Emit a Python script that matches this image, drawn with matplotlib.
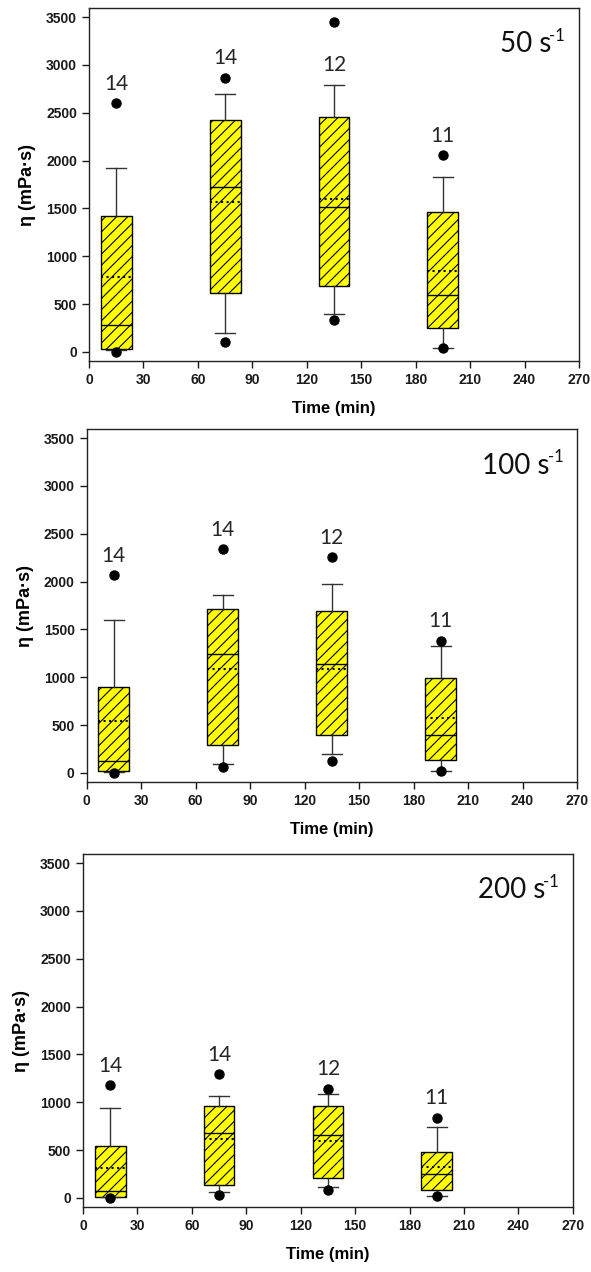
import matplotlib
matplotlib.use('Agg')
import matplotlib.pyplot as plt

plt.rcParams['font.family'] = ['Liberation Sans', 'DejaVu Sans']
plt.rcParams['hatch.linewidth'] = 0.8

# sampling times (min) and number of samples per time
times = [15, 75, 135, 195]
counts = [14, 14, 12, 11]
shear_rates = ['50', '100', '200']

# viscosity statistics, one row per shear rate (50, 100, 200 1/s)
whislo = [[15, 199, 394, 45], [15, 94, 202, 24], [10, 59, 115, 17]]
q1 = [[31, 621, 687, 251], [24, 296, 397, 139], [10, 140, 206, 87]]
med = [[286, 1727, 1511, 590], [125, 1240, 1139, 400], [70, 674, 660, 255]]
mean = [[782, 1563, 1602, 851], [547, 1087, 1087, 575], [314, 621, 597, 318]]
q3 = [[1424, 2422, 2457, 1459], [895, 1710, 1689, 989], [544, 963, 963, 475]]
whishi = [[1926, 2701, 2795, 1832], [1599, 1856, 1971, 1323], [942, 1064, 1089, 743]]
flier_lo = [[0, 108, 338, 40], [0, 63, 125, 24], [0, 35, 87, 17]]
flier_hi = [[2600, 2868, 3451, 2059], [2069, 2337, 2253, 1383], [1180, 1295, 1141, 838]]

rects = [[0.1506, 0.7162, 0.829, 0.2775],
         [0.1464, 0.3852, 0.830, 0.2775],
         [0.1404, 0.0511, 0.829, 0.2775]]

fig = plt.figure(figsize=(5.91, 12.72), dpi=100)

for i, rect in enumerate(rects):
    ax = fig.add_axes(rect)
    stats = []
    for j in range(len(times)):
        stats.append(dict(med=med[i][j], q1=q1[i][j], q3=q3[i][j],
                          whislo=whislo[i][j], whishi=whishi[i][j],
                          mean=mean[i][j],
                          fliers=[flier_lo[i][j], flier_hi[i][j]]))
    ax.bxp(stats, positions=times, widths=17, capwidths=11,
           patch_artist=True, showmeans=True, meanline=True, manage_ticks=False,
           boxprops=dict(facecolor='#ffff00', edgecolor='black', linewidth=1.0, hatch='///'),
           medianprops=dict(color='black', linewidth=1.0),
           meanprops=dict(color='black', linestyle=':', linewidth=1.5),
           whiskerprops=dict(color='#333333', linewidth=1.0),
           capprops=dict(color='#333333', linewidth=1.0),
           flierprops=dict(marker='o', markerfacecolor='black',
                           markeredgecolor='black', markersize=6.5))

    # sample counts above each box (below the frame when the top point is too high)
    for j, t in enumerate(times):
        top = flier_hi[i][j] if flier_hi[i][j] < 3300 else whishi[i][j]
        ax.annotate(str(counts[j]), xy=(t, top), xytext=(0, 14),
                    textcoords='offset points', ha='center', va='center',
                    fontsize=15, family='Lato', color='#262626')

    # shear rate tag, with a plain hyphen in the exponent
    ax.annotate('-1', xy=(0.972, 0.874), xycoords='axes fraction',
                xytext=(0, 8), textcoords='offset points',
                ha='right', va='baseline', fontsize=12, family='Lato', color='#111111')
    ax.annotate(shear_rates[i] + ' s', xy=(0.972, 0.874), xycoords='axes fraction',
                xytext=(-10, 0), textcoords='offset points',
                ha='right', va='baseline', fontsize=20, family='Lato', color='#111111')

    ax.set_xlim(0, 270)
    ax.set_ylim(-95, 3595)
    ax.set_xticks(range(0, 271, 30))
    ax.set_yticks(range(0, 3501, 500))
    ax.tick_params(direction='out', length=5, width=1, labelsize=10, colors='#1a1a1a')
    for lab in ax.get_xticklabels() + ax.get_yticklabels():
        lab.set_fontweight('bold')
    for sp in ax.spines.values():
        sp.set_linewidth(1.0)
        sp.set_color('#222222')
    ax.set_xlabel('Time (min)', fontsize=12, fontweight='bold', labelpad=10)
    ax.set_ylabel('η (mPa·s)', fontsize=13, fontweight='bold', labelpad=7)

fig.savefig('out.png', dpi=100)
